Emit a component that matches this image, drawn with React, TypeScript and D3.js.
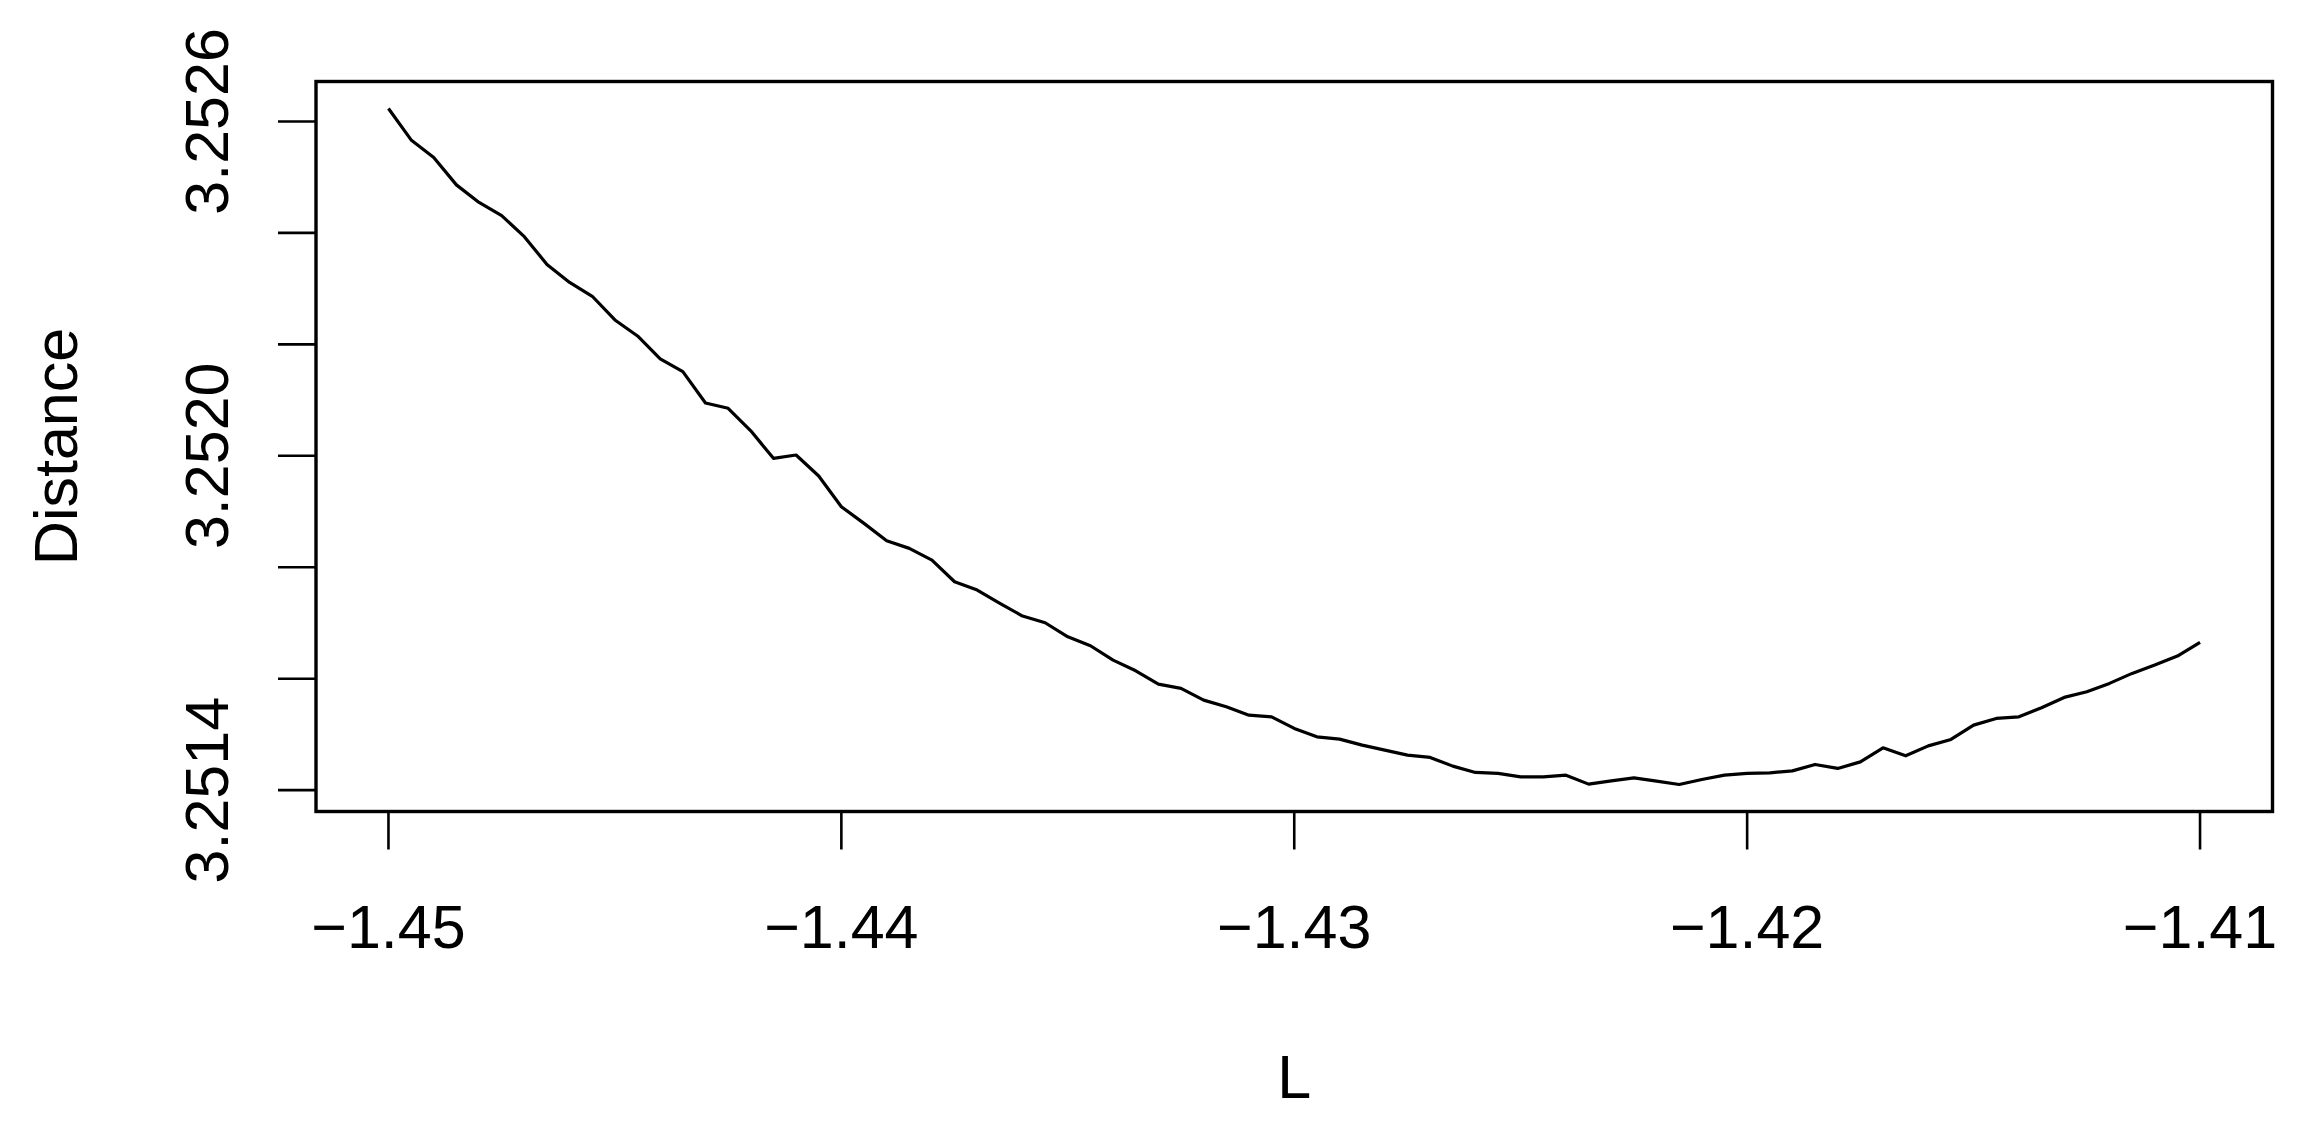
import React from "react";
import * as d3 from "d3";

const xValues: number[] = Array.from({ length: 81 }, (_, i) => +(-1.45 + 0.0005 * i).toFixed(4));
const distance: number[] = [
  3.2526232, 3.2525669, 3.2525355, 3.2524862, 3.2524547, 3.2524309, 3.2523933, 3.2523434, 3.2523111, 3.2522863,
  3.2522438, 3.2522151, 3.2521738, 3.252151, 3.2520948, 3.2520853, 3.2520449, 3.2519955, 3.2520014, 3.2519637,
  3.2519086, 3.2518788, 3.2518476, 3.2518339, 3.2518129, 3.251774, 3.2517591, 3.2517352, 3.2517124, 3.2517004,
  3.2516752, 3.2516591, 3.2516334, 3.2516142, 3.2515903, 3.2515826, 3.2515616, 3.2515495, 3.2515346, 3.2515316,
  3.2515108, 3.2514957, 3.2514916, 3.2514808, 3.2514718, 3.2514628, 3.2514587, 3.2514431, 3.2514318, 3.25143,
  3.2514239, 3.2514239, 3.2514269, 3.2514108, 3.2514167, 3.2514221, 3.2514162, 3.2514102, 3.2514192, 3.2514269,
  3.25143, 3.2514311, 3.2514346, 3.2514461, 3.251439, 3.2514508, 3.2514759, 3.2514616, 3.2514795, 3.251491,
  3.2515167, 3.2515287, 3.2515316, 3.2515478, 3.2515664, 3.2515765, 3.2515916, 3.2516095, 3.2516244, 3.2516406,
  3.2516652,
];
const xTicks: number[] = [-1.45, -1.44, -1.43, -1.42, -1.41];
const yTicks: number[] = [3.2514, 3.2516, 3.2518, 3.252, 3.2522, 3.2524, 3.2526];
const yLabelTicks: number[] = [3.2514, 3.252, 3.2526];
const xTitle = "L";
const yTitle = "Distance";

export default function App() {
  const W = 2299, H = 1131;
  const left = 316, right = 2272.5, top = 81.5, bottom = 811.5;
  const font = "'Liberation Sans', Arial, Helvetica, sans-serif";
  const fs = 61;

  const [x0, x1] = d3.extent(xValues) as [number, number];
  const xr = x1 - x0;
  const x = d3.scaleLinear().domain([x0 - 0.04 * xr, x1 + 0.04 * xr]).range([left, right]);
  const [y0, y1] = d3.extent(distance) as [number, number];
  const yr = y1 - y0;
  const y = d3.scaleLinear().domain([y0 - 0.04 * yr, y1 + 0.04 * yr]).range([bottom, top]);

  const line = d3
    .line<number>()
    .x((_, i) => x(xValues[i]))
    .y((d) => y(d));

  const fmtX = d3.format(".2f");
  const fmtY = d3.format(".4f");
  const tickLen = 38;

  return (
    <svg
      width={W}
      height={H}
      style={{ position: "absolute", left: 0, top: 0, background: "#fff" }}
      fontFamily={font}
    >
      <rect x={0} y={0} width={W} height={H} fill="#fff" />
      <path d={line(distance) || ""} fill="none" stroke="#000" strokeWidth={3.2} strokeLinejoin="round" />
      <rect x={left} y={top} width={right - left} height={bottom - top} fill="none" stroke="#000" strokeWidth={3.4} />
      {xTicks.map((t) => (
        <g key={"x" + t}>
          <line x1={x(t)} x2={x(t)} y1={bottom} y2={bottom + tickLen} stroke="#000" strokeWidth={2.6} />
          <text x={x(t)} y={948} fontSize={fs} textAnchor="middle" fill="#000">
            {fmtX(t)}
          </text>
        </g>
      ))}
      {yTicks.map((t) => (
        <line key={"y" + t} x1={left} x2={left - tickLen} y1={y(t)} y2={y(t)} stroke="#000" strokeWidth={2.6} />
      ))}
      {yLabelTicks.map((t) => (
        <text
          key={"yl" + t}
          transform={`translate(228,${y(t)}) rotate(-90)`}
          fontSize={fs}
          textAnchor="middle"
          fill="#000"
        >
          {fmtY(t)}
        </text>
      ))}
      <text x={(left + right) / 2} y={1098} fontSize={fs} textAnchor="middle" fill="#000">
        {xTitle}
      </text>
      <text
        transform={`translate(77,${(top + bottom) / 2}) rotate(-90)`}
        fontSize={fs}
        textAnchor="middle"
        fill="#000"
      >
        {yTitle}
      </text>
    </svg>
  );
}
